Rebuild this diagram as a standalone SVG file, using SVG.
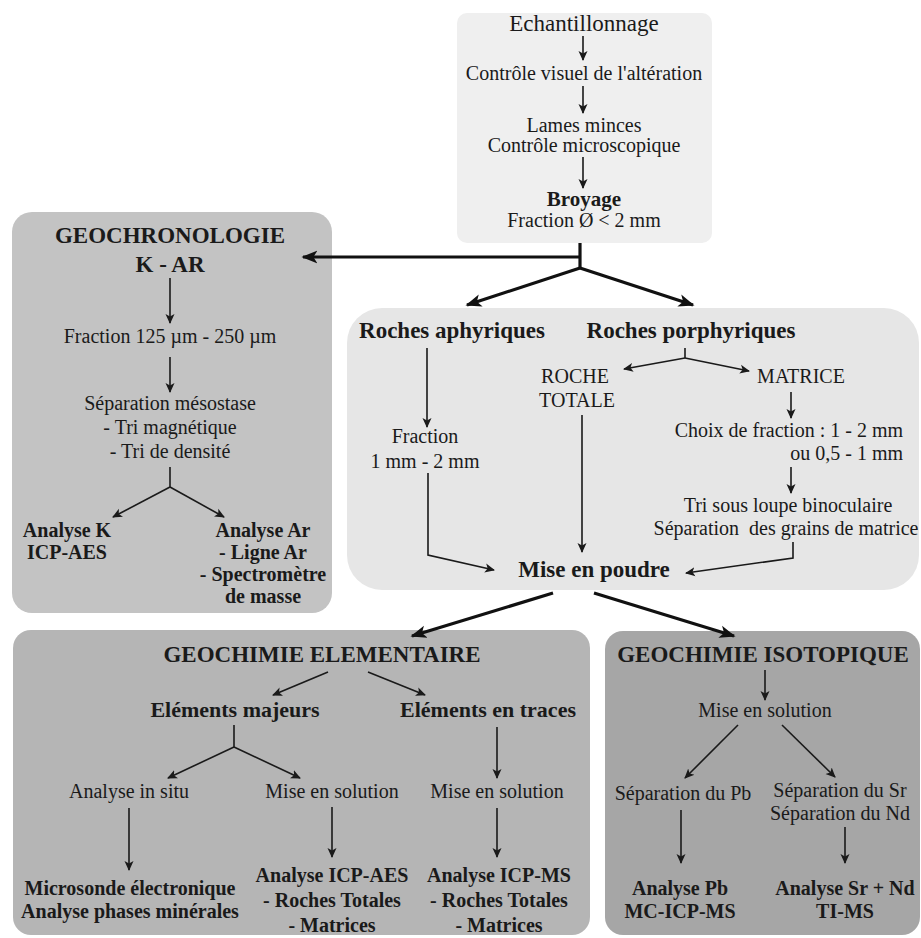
<svg xmlns="http://www.w3.org/2000/svg" width="921" height="938" viewBox="0 0 921 938">
<style>
text{font-family:"Liberation Serif","Times New Roman",serif;fill:#1a1a1a;text-anchor:middle;font-size:20px}
.b{font-weight:bold}
.h{font-weight:bold;font-size:23px}
.r{text-anchor:end}
.t{stroke:#1a1a1a;stroke-width:1.6;fill:none;marker-end:url(#a)}
.n{stroke:#1a1a1a;stroke-width:1.6;fill:none}
.k{stroke:#111;stroke-width:3.2;fill:none}
.ka{stroke:#111;stroke-width:3.2;fill:none;marker-end:url(#A)}
</style>
<defs>
<marker id="a" viewBox="0 0 10 10" refX="9" refY="5" markerWidth="10" markerHeight="10" markerUnits="userSpaceOnUse" orient="auto"><path d="M0,0.5 L10,5 L0,9.5 L2.5,5 Z" fill="#1a1a1a"/></marker>
<marker id="A" viewBox="0 0 10 10" refX="9" refY="5" markerWidth="16" markerHeight="14" markerUnits="userSpaceOnUse" orient="auto" preserveAspectRatio="none"><path d="M0,0.5 L10,5 L0,9.5 L2.5,5 Z" fill="#111"/></marker>
</defs>
<g id="echantillonnage">
<rect x="457" y="13" width="255" height="230" rx="10" fill="#efefef"/>
<text x="584" y="31" style="font-size:23px">Echantillonnage</text>
<text x="584" y="80">Contrôle visuel de l'altération</text>
<text x="584" y="132">Lames minces</text>
<text x="584" y="152">Contrôle microscopique</text>
<text x="584" y="206" class="b" style="font-size:21px">Broyage</text>
<text x="584" y="227">Fraction Ø &lt; 2 mm</text>
<line class="t" x1="583" y1="36" x2="583" y2="60"/>
<line class="t" x1="583" y1="86" x2="583" y2="113"/>
<line class="t" x1="583" y1="157" x2="583" y2="188"/>
</g>
<g id="geochronologie">
<rect x="12" y="212" width="320" height="401" rx="20" fill="#c3c3c3"/>
<text x="170" y="243" class="h">GEOCHRONOLOGIE</text>
<text x="170" y="272" class="h">K - AR</text>
<line class="t" x1="170" y1="278" x2="170" y2="323"/>
<text x="170" y="343">Fraction 125 µm - 250 µm</text>
<line class="t" x1="170" y1="357" x2="170" y2="392"/>
<text x="170" y="410">Séparation mésostase</text>
<text x="170" y="434">- Tri magnétique</text>
<text x="170" y="458">- Tri de densité</text>
<line class="n" x1="170" y1="467" x2="170" y2="487"/>
<line class="t" x1="170" y1="487" x2="113" y2="517"/>
<line class="t" x1="170" y1="487" x2="224" y2="517"/>
<text x="67" y="537" class="b">Analyse K</text>
<text x="67" y="559" class="b">ICP-AES</text>
<text x="263" y="537" class="b">Analyse Ar</text>
<text x="263" y="559" class="b">- Ligne Ar</text>
<text x="263" y="581" class="b">- Spectromètre</text>
<text x="263" y="603" class="b">de masse</text>
</g>
<g id="roches">
<rect x="347" y="308" width="572" height="282" rx="35" fill="#e6e6e6"/>
<text x="452" y="338" class="h">Roches aphyriques</text>
<text x="691" y="338" class="h">Roches porphyriques</text>
<line class="t" x1="427" y1="348" x2="427" y2="427"/>
<text x="425" y="443">Fraction</text>
<text x="425" y="468">1 mm - 2 mm</text>
<polyline class="t" points="428,473 428,555 494,570"/>
<line class="n" x1="685" y1="348" x2="685" y2="358"/>
<line class="t" x1="685" y1="358" x2="624" y2="369"/>
<line class="t" x1="685" y1="358" x2="749" y2="371"/>
<text x="575" y="383">ROCHE</text>
<text x="577" y="407">TOTALE</text>
<line class="t" x1="582" y1="415" x2="582" y2="552"/>
<text x="801" y="383">MATRICE</text>
<line class="t" x1="791" y1="392" x2="791" y2="418"/>
<text x="903" y="437" class="r">Choix de fraction : 1 - 2 mm</text>
<text x="903" y="460" class="r">ou 0,5 - 1 mm</text>
<line class="t" x1="791" y1="467" x2="791" y2="493"/>
<text x="788" y="512">Tri sous loupe binoculaire</text>
<text x="786" y="535">Séparation&#160; des grains de matrice</text>
<polyline class="t" points="793,542 793,558 686,573"/>
<text x="594" y="577" class="h">Mise en poudre</text>
</g>
<g id="elementaire">
<rect x="13" y="630" width="577" height="305" rx="18" fill="#b5b5b5"/>
<text x="322" y="662" class="h">GEOCHIMIE ELEMENTAIRE</text>
<line class="t" x1="328" y1="672" x2="273" y2="695"/>
<line class="t" x1="368" y1="672" x2="425" y2="695"/>
<text x="235" y="717" class="b" style="font-size:22px">Eléments majeurs</text>
<text x="488" y="717" class="b" style="font-size:22px">Eléments en traces</text>
<line class="n" x1="234" y1="725" x2="234" y2="747"/>
<line class="t" x1="234" y1="747" x2="168" y2="778"/>
<line class="t" x1="234" y1="747" x2="300" y2="778"/>
<line class="t" x1="497" y1="727" x2="497" y2="778"/>
<text x="129" y="798">Analyse in situ</text>
<text x="332" y="798">Mise en solution</text>
<text x="497" y="798">Mise en solution</text>
<line class="t" x1="129" y1="808" x2="129" y2="870"/>
<line class="t" x1="332" y1="807" x2="332" y2="857"/>
<line class="t" x1="497" y1="808" x2="497" y2="857"/>
<text x="130" y="895" class="b">Microsonde électronique</text>
<text x="130" y="918" class="b">Analyse phases minérales</text>
<text x="332" y="882" class="b">Analyse ICP-AES</text>
<text x="332" y="907" class="b">- Roches Totales</text>
<text x="332" y="932" class="b">- Matrices</text>
<text x="499" y="882" class="b">Analyse ICP-MS</text>
<text x="499" y="907" class="b">- Roches Totales</text>
<text x="499" y="932" class="b">- Matrices</text>
</g>
<g id="isotopique">
<rect x="605" y="631" width="315" height="304" rx="18" fill="#a6a6a6"/>
<text x="763" y="662" class="h">GEOCHIMIE ISOTOPIQUE</text>
<line class="t" x1="765" y1="670" x2="765" y2="700"/>
<text x="765" y="717">Mise en solution</text>
<line class="t" x1="738" y1="725" x2="685" y2="778"/>
<line class="t" x1="782" y1="725" x2="835" y2="777"/>
<text x="683" y="800">Séparation du Pb</text>
<text x="840" y="797">Séparation du Sr</text>
<text x="840" y="820">Séparation du Nd</text>
<line class="t" x1="681" y1="810" x2="681" y2="863"/>
<line class="t" x1="845" y1="827" x2="845" y2="863"/>
<text x="680" y="895" class="b">Analyse Pb</text>
<text x="680" y="918" class="b">MC-ICP-MS</text>
<text x="845" y="895" class="b">Analyse Sr + Nd</text>
<text x="845" y="918" class="b">TI-MS</text>
</g>
<g id="connectors">
<line class="k" x1="580" y1="243" x2="580" y2="268"/>
<line class="ka" x1="580" y1="257" x2="303" y2="257"/>
<line class="ka" x1="580" y1="268" x2="467" y2="305"/>
<line class="ka" x1="580" y1="268" x2="693" y2="305"/>
<line class="ka" x1="553" y1="593" x2="412" y2="636"/>
<line class="ka" x1="594" y1="593" x2="734" y2="636"/>
</g>
</svg>
